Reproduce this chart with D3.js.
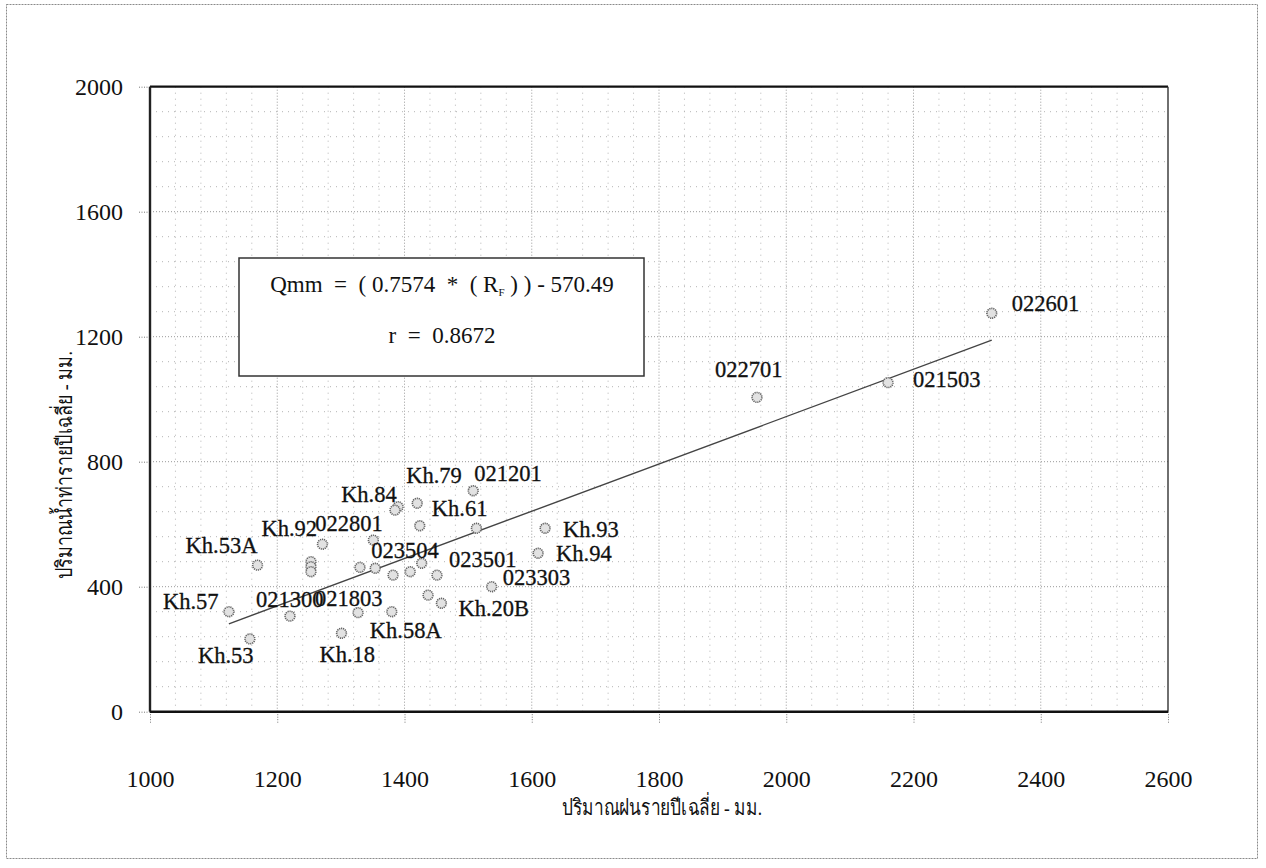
<!DOCTYPE html>
<html>
<head>
<meta charset="utf-8">
<script src="https://cdn.jsdelivr.net/npm/d3@7"></script>
<style>
  html, body { margin: 0; padding: 0; background: #fff; }
  svg { display: block; }
  text { font-family: "Liberation Serif", "Times New Roman", serif; fill: #111; }
</style>
</head>
<body>
<svg id="chart" width="1266" height="868"></svg>
<script>
// Annual rainfall (mm) vs annual runoff (mm) per gauging station
const stations = ["Kh.57", "Kh.53", "Kh.53A", "021300", "Kh.92", "", "", "",
  "021803", "Kh.18", "", "022801", "023504", "Kh.58A", "", "Kh.84", "",
  "", "Kh.79", "Kh.61", "", "Kh.20B", "023501", "", "021201", "", "023303",
  "Kh.94", "Kh.93", "022701", "021503", "022601"];
const rainfall = [1124, 1157, 1169, 1220, 1271, 1253, 1253, 1253,
  1327, 1301, 1330, 1351, 1354, 1380, 1382, 1390, 1385,
  1409, 1420, 1424, 1427, 1458, 1451, 1437, 1508, 1513, 1537,
  1610, 1621, 1954, 2160, 2323];
const runoff = [320, 233, 469, 306, 536, 480, 464, 448,
  317, 251, 462, 549, 459, 320, 437, 656, 645,
  448, 667, 595, 475, 347, 437, 373, 707, 587, 400,
  507, 587, 1006, 1053, 1275];

// Regression: Qmm = 0.7574 * RF - 570.49
const slope = 0.7574, intercept = -570.49, corr = 0.8672;

const xTicks = [1000, 1200, 1400, 1600, 1800, 2000, 2200, 2400, 2600];
const yTicks = [0, 400, 800, 1200, 1600, 2000];
const xTitle = "ปริมาณฝนรายปีเฉลี่ย - มม.";
const yTitle = "ปริมาณน้ำท่ารายปีเฉลี่ย - มม.";

// label placement relative to each marker (dx, dy to text start / baseline)
const labelOffset = {
  "Kh.57": [-66, -3], "Kh.53": [-52, 24], "Kh.53A": [-72, -12],
  "021300": [-34, -9], "Kh.92": [-61, -8], "022801": [-58, -9],
  "021803": [-43, -7], "Kh.18": [-22, 29], "Kh.58A": [-22, 26],
  "Kh.84": [-57, -5], "Kh.79": [-11, -20], "Kh.61": [12, -10],
  "021201": [1, -10], "023504": [-4, -10], "023501": [12, -8],
  "023303": [11, -2], "Kh.20B": [17, 13], "Kh.94": [18, 8],
  "Kh.93": [18, 9], "022701": [-42, -20], "021503": [25, 4],
  "022601": [20, -2]
};

const svg = d3.select("#chart");
const plotL = 150, plotR = 1168, plotT = 86.7, plotB = 711.7;

const x = d3.scaleLinear().domain([1000, 2600]).range([plotL, plotR]);
const y = d3.scaleLinear().domain([0, 2000]).range([plotB, plotT]);

// outer border
svg.append("rect")
  .attr("x", 6.5).attr("y", 4.5).attr("width", 1251).attr("height", 854)
  .attr("fill", "none").attr("stroke", "#8a8a8a").attr("stroke-width", 1)
  .attr("stroke-dasharray", "2,1");

// grid: minor every 40 mm (x) / 80 mm (y), major every 200 / 400
const grid = svg.append("g");
grid.selectAll("line.vx").data(d3.range(1040, 2600, 40))
  .join("line")
  .attr("x1", d => x(d)).attr("x2", d => x(d))
  .attr("y1", plotT).attr("y2", plotB)
  .attr("stroke", d => d % 200 === 0 ? "#999" : "#b4b4b4")
  .attr("stroke-width", 1)
  .attr("stroke-dasharray", d => d % 200 === 0 ? "1,2" : "1,5");
grid.selectAll("line.hy").data(d3.range(80, 2000, 80))
  .join("line")
  .attr("y1", d => y(d)).attr("y2", d => y(d))
  .attr("x1", plotL).attr("x2", plotR)
  .attr("stroke", d => d % 400 === 0 ? "#999" : "#b4b4b4")
  .attr("stroke-width", 1)
  .attr("stroke-dasharray", d => d % 400 === 0 ? "1,2" : "1,5");

// axes
const xAxis = svg.append("g").attr("transform", `translate(0,${plotB})`)
  .call(d3.axisBottom(x).tickValues(xTicks).tickSize(11).tickFormat(d3.format("d")));
const yAxis = svg.append("g").attr("transform", `translate(${plotL},0)`)
  .call(d3.axisLeft(y).tickValues(yTicks).tickSize(11).tickFormat(d3.format("d")));
[xAxis, yAxis].forEach(a => {
  a.select(".domain").remove();
  a.selectAll(".tick line").attr("stroke", "#777").attr("stroke-dasharray", "1,1.5");
  a.selectAll(".tick text").attr("font-size", 24)
    .style("font-family", '"Liberation Serif", serif').attr("fill", "#111");
});
xAxis.selectAll(".tick text").attr("dy", null).attr("y", 75);
yAxis.selectAll(".tick text").attr("x", -27).attr("dy", "0.34em");

// frame
svg.append("line").attr("x1", plotL).attr("x2", plotR).attr("y1", plotT).attr("y2", plotT)
  .attr("stroke", "#111").attr("stroke-width", 2.2);
svg.append("line").attr("x1", plotR).attr("x2", plotR).attr("y1", plotT).attr("y2", plotB)
  .attr("stroke", "#333").attr("stroke-width", 1.4);
svg.append("line").attr("x1", plotL).attr("x2", plotL).attr("y1", plotT).attr("y2", plotB)
  .attr("stroke", "#222").attr("stroke-width", 2.4);
svg.append("line").attr("x1", plotL).attr("x2", plotR).attr("y1", plotB).attr("y2", plotB)
  .attr("stroke", "#111").attr("stroke-width", 2.6);

// regression line across the observed rainfall range
const [rMin, rMax] = d3.extent(rainfall);
svg.append("line")
  .attr("x1", x(rMin)).attr("y1", y(slope * rMin + intercept))
  .attr("x2", x(rMax)).attr("y2", y(slope * rMax + intercept))
  .attr("stroke", "#444").attr("stroke-width", 1.4);

// markers
const pts = rainfall.map((r, i) => ({ r, q: runoff[i], name: stations[i] }));
svg.append("g").selectAll("circle").data(pts).join("circle")
  .attr("cx", d => x(d.r)).attr("cy", d => y(d.q)).attr("r", 4.9)
  .attr("fill", "#e2e2e2").attr("stroke", "#666").attr("stroke-width", 1.6)
  .attr("stroke-dasharray", "1.2,0.8");

// station labels
svg.append("g").selectAll("text").data(pts.filter(d => d.name))
  .join("text")
  .attr("x", d => x(d.r) + labelOffset[d.name][0])
  .attr("y", d => y(d.q) + labelOffset[d.name][1])
  .attr("font-size", 22.5)
  .attr("stroke", "#111").attr("stroke-width", 0.3)
  .text(d => d.name);

// equation box
const box = svg.append("g");
box.append("rect").attr("x", 239).attr("y", 258).attr("width", 405).attr("height", 118)
  .attr("fill", "#fff").attr("stroke", "#333").attr("stroke-width", 1.5);
const eq = box.append("text").attr("x", 442).attr("y", 292).attr("text-anchor", "middle")
  .attr("font-size", 23).style("white-space", "pre");
eq.append("tspan").text(`Qmm  =  ( ${slope}  *  ( R`);
eq.append("tspan").attr("font-size", 11).attr("dy", 4).text("F");
eq.append("tspan").attr("dy", -4).text(` ) ) - ${Math.abs(intercept).toFixed(2)}`);
box.append("text").attr("x", 442).attr("y", 343).attr("text-anchor", "middle")
  .attr("font-size", 23).style("white-space", "pre")
  .text(`r  =  ${corr}`);

// axis titles
svg.append("text").attr("x", 662).attr("y", 815).attr("text-anchor", "middle")
  .attr("font-size", 22).attr("textLength", 200).attr("lengthAdjust", "spacingAndGlyphs")
  .text(xTitle);
svg.append("text").attr("transform", "translate(72,465) rotate(-90)")
  .attr("text-anchor", "middle").attr("font-size", 22)
  .attr("textLength", 228).attr("lengthAdjust", "spacingAndGlyphs")
  .text(yTitle);
</script>
</body>
</html>
